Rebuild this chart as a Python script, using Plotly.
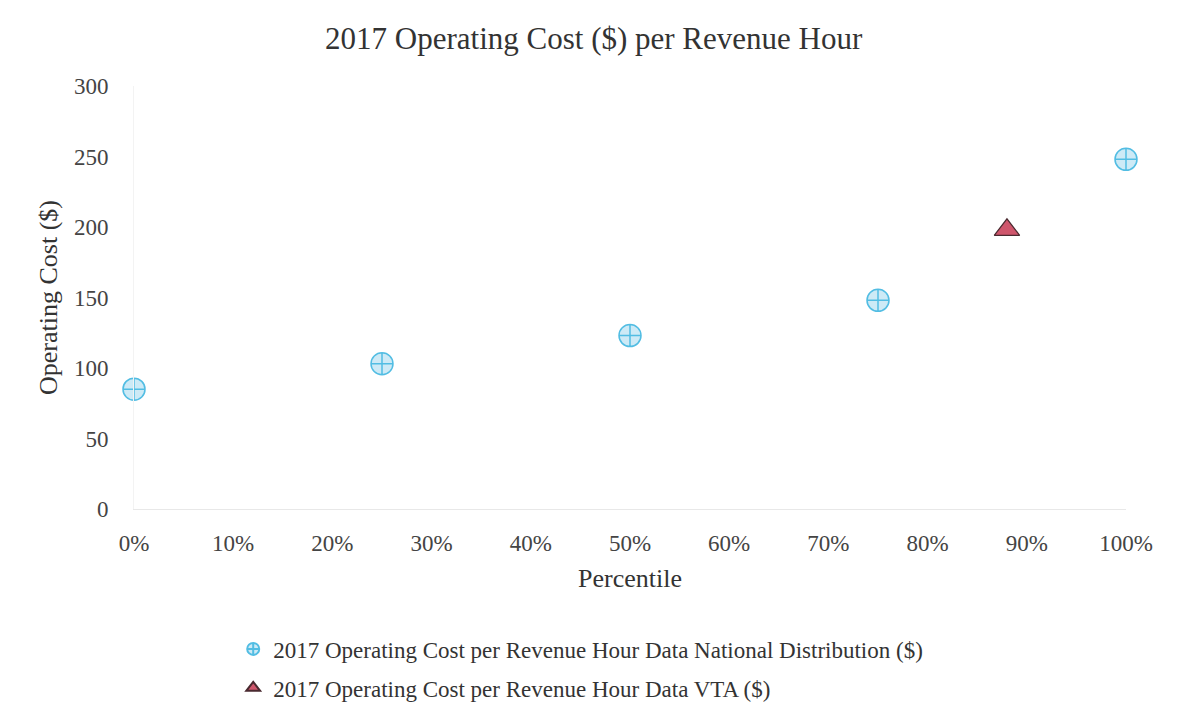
import plotly.graph_objects as go

# national distribution (percentile, $ per revenue hour)
nat_pct = [0, 0.25, 0.50, 0.75, 1.00]
nat_cost = [85, 103, 123, 148, 248]

# VTA
vta_pct = [0.88]
vta_cost = [198]

x_ticks = [0, 0.1, 0.2, 0.3, 0.4, 0.5, 0.6, 0.7, 0.8, 0.9, 1.0]
y_ticks = [0, 50, 100, 150, 200, 250, 300]

serif = 'Liberation Serif, Times New Roman, serif'

fig = go.Figure()

fig.add_trace(go.Scatter(
    x=nat_pct, y=nat_cost,
    mode='markers',
    name='2017 Operating Cost per Revenue Hour Data National Distribution ($)',
    legendgroup='nat',
    cliponaxis=False,
    marker=dict(symbol='circle-cross', size=22, color='#cdeaf6',
                line=dict(color='#52bde3', width=1.5)),
))

fig.add_trace(go.Scatter(
    x=vta_pct, y=vta_cost,
    mode='markers',
    name='2017 Operating Cost per Revenue Hour Data VTA ($)',
    legendgroup='vta',
    cliponaxis=False,
    marker=dict(symbol='triangle-up', size=22, color='#cf566c',
                line=dict(color='#4a2a30', width=1.2)),
))

fig.update_layout(
    width=1188, height=725,
    title=dict(text='2017 Operating Cost ($) per Revenue Hour',
               x=0.493, xanchor='center', y=0.959, yanchor='middle',
               font=dict(family=serif, size=31, color='#333333')),
    paper_bgcolor='white',
    plot_bgcolor='white',
    margin=dict(l=126, r=70, t=78, b=224),
    font=dict(family=serif, color='#444444'),
    xaxis=dict(
        range=[0, 1.0],
        tickvals=x_ticks,
        tickformat='.0%',
        showgrid=False,
        zeroline=False,
        showline=True, linecolor='#e8e8e8', linewidth=1,
        tickfont=dict(size=23, color='#444444'),
        ticklabelstandoff=13,
        title=dict(text='Percentile', font=dict(size=26, color='#333333'), standoff=14),
    ),
    yaxis=dict(
        range=[0, 300],
        tickvals=y_ticks,
        showgrid=False,
        zeroline=False,
        showline=True, linecolor='#f3f3f3', linewidth=1,
        tickfont=dict(size=23, color='#444444'),
        ticklabelstandoff=20,
        title=dict(text='Operating Cost ($)', font=dict(size=26, color='#333333'), standoff=8),
    ),
    legend=dict(
        orientation='v',
        x=0.100, xanchor='left',
        y=-0.28, yanchor='top',
        font=dict(family=serif, size=23, color='#333333'),
        itemsizing='constant',
        tracegroupgap=6,
        bgcolor='rgba(0,0,0,0)',
    ),
    showlegend=True,
)

fig.write_html("out.html")
